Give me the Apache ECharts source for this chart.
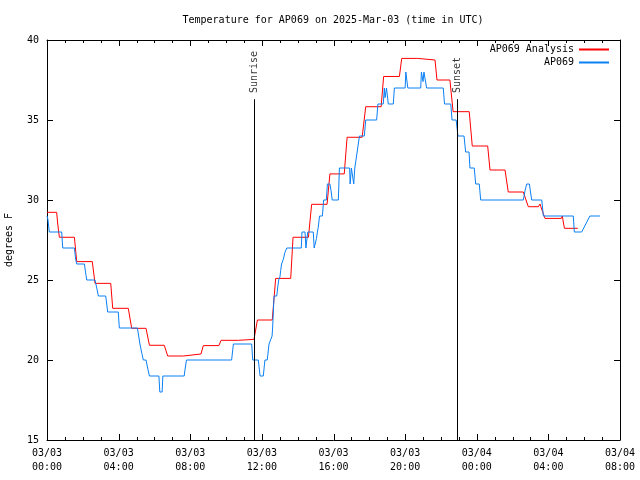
<!DOCTYPE html>
<html><head><meta charset="utf-8">
<script src="https://cdn.jsdelivr.net/npm/echarts@6/dist/echarts.min.js"></script>
<style>html,body{margin:0;padding:0;background:#fff}#c{width:640px;height:480px}</style>
</head><body><div id="c"></div>
<script>
const chartTitle = 'Temperature for AP069 on 2025-Mar-03 (time in UTC)';
const yAxisName = 'degrees F';
const seriesNames = ['AP069 Analysis', 'AP069'];
const xTickLabels = ['03/03\n00:00','03/03\n04:00','03/03\n08:00','03/03\n12:00','03/03\n16:00','03/03\n20:00','03/04\n00:00','03/04\n04:00','03/04\n08:00'];
const xTickHours = [0,1,2,3,4,5,6,7,8,9,10,11,12,13,14,15,16,17,18,19,20,21,22,23,24,25,26,27,28,29,30,31,32];
const yTickValues = [15, 20, 25, 30, 35, 40];

// hours since 03/03 00:00 UTC
const redHours = [0,0.54,0.6,0.69,1.53,1.66,2.53,2.68,3.56,3.67,4.54,4.73,5.53,5.72,6.55,6.74,7.61,7.66,8.6,8.73,9.6,9.72,10.69,10.75,11.56,11.75,12.58,12.77,13.61,13.74,14.6,14.78,15.64,15.8,16.6,16.76,17.6,17.8,18.66,18.8,19.68,19.81,20.7,20.74,21.67,21.78,22.5,22.68,23.58,23.75,24.61,24.74,25.58,25.76,26.6,26.88,27.44,27.53,27.58,27.81,28.72,28.78,28.85,28.9,29.64];
const redTemps = [29.23,29.23,28.5,27.67,27.67,26.15,26.15,24.79,24.79,23.23,23.23,21.98,21.98,20.92,20.92,20.25,20.25,20.375,20.375,20.9,20.9,21.23,21.23,21.29,21.29,22.5,22.5,25.1,25.1,27.67,27.67,29.73,29.73,31.63,31.63,33.92,33.92,35.83,35.83,37.72,37.72,38.85,38.85,38.75,38.75,37.5,37.5,35.52,35.52,33.375,33.375,31.875,31.875,30.5,30.5,29.58,29.58,29.75,29.58,28.85,28.85,29.0,28.5,28.23,28.23];

const blueHours = [0,0.05,0.13,0.82,0.88,1.53,1.6,1.66,2.09,2.15,2.22,2.68,2.78,2.87,3.28,3.39,3.98,4.04,5.05,5.12,5.19,5.3,5.38,5.53,5.62,5.72,6.25,6.3,6.43,6.47,7.66,7.72,7.79,10.31,10.36,10.41,11.43,11.49,11.8,11.85,11.9,12.08,12.17,12.3,12.4,12.49,12.57,12.6,12.64,12.68,12.83,12.88,12.94,13.01,13.05,13.1,13.2,13.28,13.39,14.2,14.24,14.41,14.46,14.5,14.56,14.87,14.92,14.98,15.05,15.1,15.15,15.22,15.38,15.45,15.6,15.66,15.8,15.86,15.93,16.27,16.33,16.9,16.93,16.97,17.0,17.1,17.13,17.16,17.19,17.26,17.32,17.38,17.45,17.72,17.8,18.41,18.48,18.78,18.84,18.88,18.92,18.96,19.0,19.06,19.34,19.4,20.0,20.04,20.1,20.15,20.87,20.91,20.96,21.0,21.05,21.14,21.2,22.13,22.2,22.55,22.62,22.85,22.95,23.29,23.38,23.57,23.62,23.86,23.94,24.14,24.22,26.6,26.7,26.79,26.94,27.0,27.07,27.63,27.72,29.39,29.45,29.86,30.32,30.88];
const blueTemps = [29,28.8,28,28,27,27,26.3,26,26,25.5,25,25,24.5,24,24,23,23,22,22,21.5,21,20.4,20,20,19.5,19,19,18,18,19,19,19.5,20,20,20.5,21,21,20,20,19.5,19,19,20,20,21,21,21.5,22,23,24,24,24.5,25,25.2,25.6,26,26.3,26.7,27,27,28,28,27,27,28,28,27,27,27.6,28,28.3,29,29,30,30,31,31,30.6,30,30,32,32,31,31,32,32,31,31,32,32,33,33,34,34,35,35,36,36,37,36.4,36.4,37,37,36,36,37,37,38,38,37,37,38,38,37.4,38,38,37,37,36,36,35,35,34,34,33,33,32,32,31,31,30,30,30.6,31,31,30.5,30,30,29,29,28,28,29,29];

const sunEventNames = ['Sunrise', 'Sunset'];
const sunEventHours = [11.56, 22.91];
const sunLineTop = 36.3;
const sunLabelBase = 36.62;

const FONT = 'DejaVu Sans Mono';
const Y_MIN = 15, Y_MAX = 40;
const redData = redHours.map((h, i) => [h, redTemps[i]]);
const blueData = blueHours.map((h, i) => [h, blueTemps[i]]);

const chart = echarts.init(document.getElementById('c'), null, {renderer: 'canvas'});
function xAx(pos, withLabels) {
  return {
    type: 'value', min: 0, max: 32, interval: 4, position: pos,
    axisLine: {show: true, onZero: false, lineStyle: {color: '#000', width: 1}},
    axisTick: {show: false},
    splitLine: {show: false},
    axisLabel: withLabels ? {show: true, margin: 6, fontFamily: FONT, fontSize: 10, color: '#000', lineHeight: 14,
      formatter: v => xTickLabels[Math.round(v / 4)]} : {show: false}
  };
}
const baseY = {
  type: 'value', min: Y_MIN, max: Y_MAX, interval: 5,
  axisLine: {show: true, onZero: false, lineStyle: {color: '#000', width: 1}},
  axisTick: {show: true, inside: true, length: 6, lineStyle: {color: '#000'}},
  splitLine: {show: false}
};
chart.setOption({
  animation: false,
  backgroundColor: '#fff',
  title: {
    text: chartTitle, left: 333, top: 15, textAlign: 'center', padding: 0,
    textStyle: {fontFamily: FONT, fontSize: 10, fontWeight: 'normal', color: '#000'}
  },
  legend: {
    data: seriesNames, orient: 'vertical', right: 30, top: 43, padding: 0,
    align: 'right', itemWidth: 30, itemHeight: 10, itemGap: 0,
    itemStyle: {opacity: 0, borderWidth: 0},
    textStyle: {fontFamily: FONT, fontSize: 10, color: '#000', lineHeight: 13}
  },
  grid: {left: 47, right: 20, top: 40, bottom: 40, containLabel: false, outerBoundsMode: 'none'},
  xAxis: [xAx('bottom', true), xAx('top', false)],
  yAxis: [
    Object.assign({}, baseY, {
      position: 'left', name: yAxisName, nameLocation: 'middle', nameGap: 33, nameRotate: 90,
      nameTextStyle: {fontFamily: FONT, fontSize: 10, color: '#000'},
      axisLabel: {show: true, margin: 8, fontFamily: FONT, fontSize: 10, color: '#000',
        formatter: v => yTickValues.includes(v) ? String(v) : ''}
    }),
    Object.assign({}, baseY, {position: 'right', axisLabel: {show: false}})
  ],
  series: [
    {
      name: seriesNames[0], type: 'line', data: redData, showSymbol: false, symbol: 'none',
      lineStyle: {color: '#ff0000', width: 1}, itemStyle: {color: '#ff0000'}, z: 2,
      markLine: {
        silent: true, symbol: 'none', animation: false,
        lineStyle: {color: '#000', width: 1, type: 'solid'}, label: {show: false},
        data: sunEventHours.map(h => [{coord: [h, Y_MIN]}, {coord: [h, sunLineTop]}])
      }
    },
    {
      name: seriesNames[1], type: 'line', data: blueData, showSymbol: false, symbol: 'none',
      lineStyle: {color: '#0a80f5', width: 1}, itemStyle: {color: '#0a80f5'}, z: 3
    },
    {
      name: 'sunLabels', type: 'scatter', symbolSize: 0, silent: true,
      data: sunEventHours.map((h, i) => [h, sunLabelBase, sunEventNames[i]]),
      label: {show: true, position: 'inside', align: 'left', verticalAlign: 'middle', rotate: 90,
        offset: [1, 0], formatter: p => p.value[2],
        fontFamily: FONT, fontSize: 10, color: '#000'}
    },
    {
      name: 'xTicks', type: 'custom', silent: true, clip: false, z: 5,
      data: xTickHours.map(h => [h, Y_MIN]),
      encode: {x: 0, y: 1},
      renderItem: (params, api) => {
        const h = api.value(0);
        const len = (h % 4 === 0) ? 6 : 3;
        const b = api.coord([h, Y_MIN]);
        const t = api.coord([h, Y_MAX]);
        const x = Math.round(b[0]) + 0.5;
        return {type: 'group', children: [
          {type: 'line', shape: {x1: x, y1: b[1], x2: x, y2: b[1] - len}, style: {stroke: '#000', lineWidth: 1}},
          {type: 'line', shape: {x1: x, y1: t[1], x2: x, y2: t[1] + len}, style: {stroke: '#000', lineWidth: 1}}
        ]};
      }
    }
  ]
});
</script></body></html>
